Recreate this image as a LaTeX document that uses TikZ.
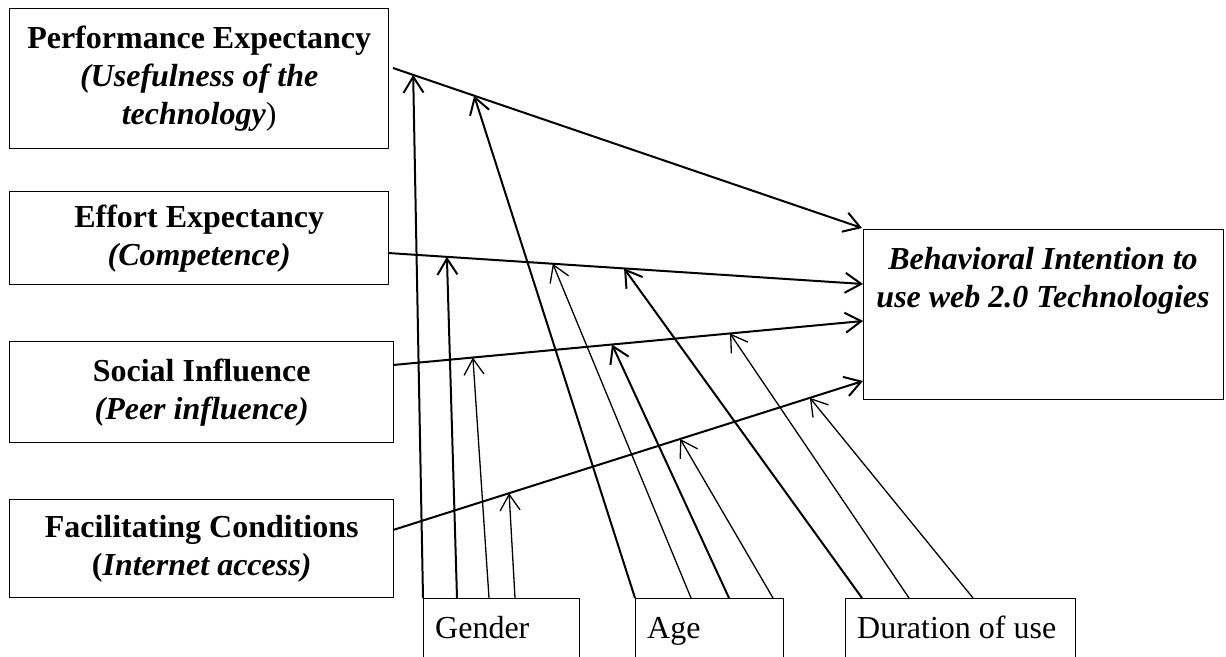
\documentclass[tikz,border=0pt]{standalone}
\usepackage{fontspec}
\setmainfont{Liberation Serif}
\usetikzlibrary{arrows.meta,calc}

\begin{document}
\begin{tikzpicture}[x=1pt,y=-1pt,
  boxline/.style={draw,line width=1.4pt},
  factor/.style={boxline,inner sep=0pt,anchor=north west,align=center,
    font=\fontsize{32}{38}\selectfont},
  frame/.style={boxline,inner sep=0pt,anchor=north west},
  modtext/.style={anchor=base west,inner sep=0pt,font=\fontsize{32}{38}\selectfont},
  bitext/.style={inner sep=0pt,align=center,font=\fontsize{32}{38}\selectfont\bfseries\itshape},
  mainarrow/.style={line width=2pt,-{Straight Barb[length=16pt,width=20pt]}},
  modthick/.style={line width=2pt,-{Straight Barb[length=16pt,width=20pt]}},
  modthin/.style={line width=1.3pt,-{Straight Barb[length=16pt,width=20pt]}}]

\useasboundingbox (0,0) rectangle (1226,656);
\clip (0,0) rectangle (1226,656);

% predictor constructs
\node[factor,minimum width=379pt,minimum height=140pt] (pe) at (9,8)
  {\textbf{Performance Expectancy}\\\textbf{\textit{(Usefulness of the}}\\\textbf{\textit{technology}})};
\node[factor,minimum width=379pt,minimum height=93pt] (ee) at (9,191)
  {\textbf{Effort Expectancy}\\\textbf{\textit{(Competence)}}};
\node[factor,minimum width=384pt,minimum height=101pt] (si) at (9,341)
  {\textbf{Social Influence}\\\textbf{\textit{(Peer influence)}}};
\node[factor,minimum width=384pt,minimum height=98pt] (fc) at (9,499)
  {\textbf{Facilitating Conditions}\\\textbf{(\textit{Internet access)}}};

% outcome construct
\node[frame,minimum width=360pt,minimum height=170pt] (bi) at (863,229) {};
\node[bitext] (bi-t) at (1043,281) {Behavioral Intention to\\use web 2.0 Technologies};

% moderators (boxes run off the lower edge)
\node[frame,minimum width=156pt,minimum height=90pt] (gen) at (423,598) {};
\node[frame,minimum width=148pt,minimum height=90pt] (age) at (635,598) {};
\node[frame,minimum width=230pt,minimum height=90pt] (dur) at (845,598) {};
\node[modtext] (gen-t) at ($(gen.north west)+(12,40)$) {Gender};
\node[modtext] (age-t) at ($(age.north west)+(12,40)$) {Age};
\node[modtext] (dur-t) at ($(dur.north west)+(12,40)$) {Duration of use};

% end points of the direct paths
\coordinate (pe-s) at (393,68);
\coordinate (ee-s) at (388,253);
\coordinate (si-s) at (393,365);
\coordinate (fc-s) at (393,530);
\coordinate (bi-1) at (862,228);
\coordinate (bi-2) at (863,284);
\coordinate (bi-3) at (863,321);
\coordinate (bi-4) at (863,381);

% direct paths, with the points where moderators act
\draw[mainarrow] (pe-s) -- coordinate[pos=0.043] (pe-g) coordinate[pos=0.173] (pe-a) (bi-1);
\draw[mainarrow] (ee-s) -- coordinate[pos=0.124] (ee-g) coordinate[pos=0.347] (ee-a)
  coordinate[pos=0.497] (ee-d) (bi-2);
\draw[mainarrow] (si-s) -- coordinate[pos=0.170] (si-g) coordinate[pos=0.466] (si-a)
  coordinate[pos=0.717] (si-d) (bi-3);
\draw[mainarrow] (fc-s) -- coordinate[pos=0.247] (fc-g) coordinate[pos=0.611] (fc-a)
  coordinate[pos=0.887] (fc-d) (bi-4);

% gender
\draw[modthick] (gen.north west) -- (pe-g);
\draw[modthick] ($(gen.north west)+(34,0)$) -- (ee-g);
\draw[modthin]  ($(gen.north west)+(66,0)$) -- (si-g);
\draw[modthin]  ($(gen.north west)+(92,0)$) -- (fc-g);

% age
\draw[modthick] (age.north west) -- (pe-a);
\draw[modthin]  ($(age.north west)+(56,0)$) -- (ee-a);
\draw[modthick] ($(age.north west)+(94,0)$) -- (si-a);
\draw[modthin]  ($(age.north west)+(138,0)$) -- (fc-a);

% duration of use
\draw[modthick] ($(dur.north west)+(17,0)$) -- (ee-d);
\draw[modthin]  ($(dur.north west)+(64,0)$) -- (si-d);
\draw[modthin]  ($(dur.north west)+(128,0)$) -- (fc-d);
\end{tikzpicture}
\end{document}
